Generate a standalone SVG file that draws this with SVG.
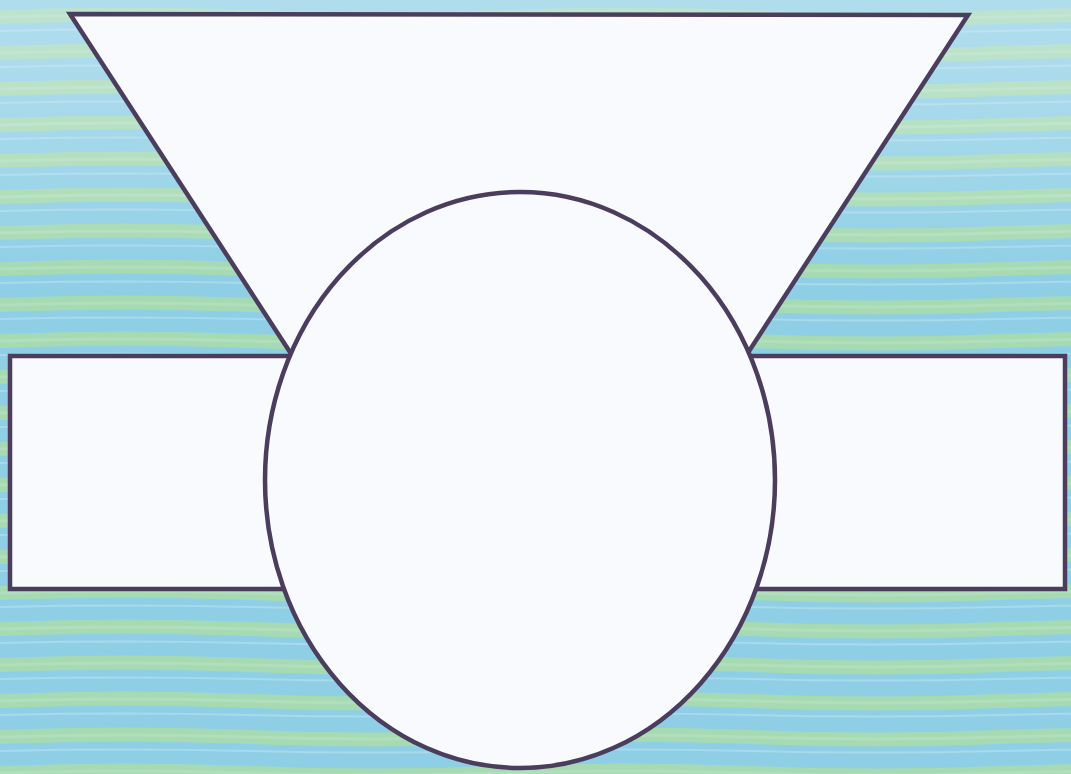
<svg xmlns="http://www.w3.org/2000/svg" width="1071" height="774" viewBox="0 0 1071 774">
<defs>
<style>
.shape{fill:#f9fafd;stroke:#4b3d5e;stroke-width:4.5;stroke-linejoin:miter}
</style>
<pattern id="waves" x="0" y="0" width="500" height="36" patternUnits="userSpaceOnUse">
<rect width="500" height="36" fill="#8fcfe6"/>
<path d="M0 10 Q125 5 250 10 T500 10 L500 24 Q375 29 250 24 T0 24 Z" fill="#a6dab2"/>
<path d="M0 17 Q125 13 250 17 T500 17" fill="none" stroke="#b2dfbb" stroke-width="3"/>
<path d="M0 31 Q125 28 250 31 T500 31" fill="none" stroke="#a8d9ec" stroke-width="2"/>
</pattern>
<linearGradient id="tint" x1="0" y1="0" x2="0" y2="1">
<stop offset="0" stop-color="#d8eef5" stop-opacity="0.45"/>
<stop offset="0.35" stop-color="#ffffff" stop-opacity="0"/>
<stop offset="1" stop-color="#ffffff" stop-opacity="0"/>
</linearGradient>
</defs>
<rect width="1071" height="774" fill="url(#waves)"/>
<rect width="1071" height="774" fill="url(#tint)"/>
<g id="triangle"><polygon class="shape" points="70,14 968,15 519,704"/></g>
<g id="band"><rect class="shape" x="10" y="356" width="1055" height="233"/></g>
<g id="circle"><ellipse class="shape" cx="520" cy="480" rx="255" ry="288"/></g>
</svg>
